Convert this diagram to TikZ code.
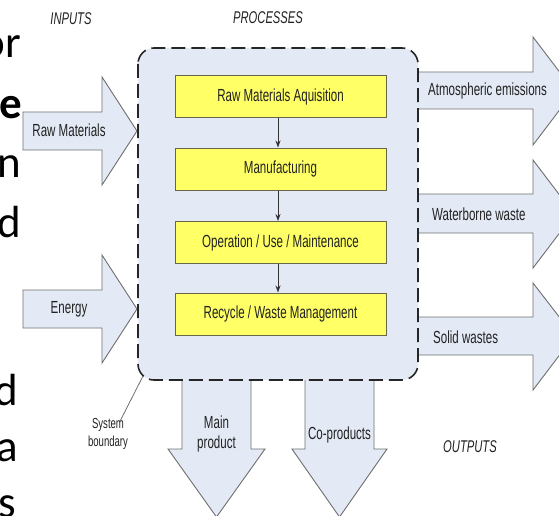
\documentclass[tikz,border=0pt]{standalone}
\usepackage{fontspec}
\setmainfont{Liberation Sans}[FakeStretch=0.66]
\newfontfamily\slidefont{Carlito}
\usetikzlibrary{arrows.meta}
\definecolor{paleblue}{HTML}{E4EAF5}
\definecolor{arrowline}{HTML}{6E6E6E}
\definecolor{boxyellow}{HTML}{FFFF66}
\definecolor{boxedge}{HTML}{66664A}
\definecolor{txt}{HTML}{222222}
\begin{document}
\begin{tikzpicture}[x=1pt,y=-1pt,
  fatarrow/.style={draw=arrowline, fill=paleblue, line width=0.9pt, line join=miter},
  boundary/.style={draw=black!85, fill=paleblue, line width=1.6pt, dash pattern=on 14pt off 6pt, rounded corners=16pt},
  stepbox/.style={draw=boxedge, fill=boxyellow, line width=1pt, minimum width=211pt, minimum height=42pt, inner sep=0pt, text=txt, font=\fontsize{17.5}{19}\selectfont},
  lbl/.style={text=txt, font=\fontsize{17.5}{19}\selectfont, inner sep=0pt},
  small/.style={text=txt, font=\fontsize{14.5}{18}\selectfont, inner sep=0pt, align=center},
  head/.style={text=txt, font=\fontsize{17}{19}\selectfont\itshape, inner sep=0pt},
  big/.style={font=\slidefont\fontsize{45}{50}\selectfont, inner sep=0pt, anchor=base east, text=black}
]
\useasboundingbox (0,0) rectangle (559,516);
\clip (0,0) rectangle (559,516);

% slide text fragments behind the diagram
\node[big] (t1) at (21,58) {or};
\node[big] (t2) at (22,118) {\bfseries e};
\node[big] (t3) at (21,177) {n};
\node[big] (t4) at (21,237) {d};
\node[big] (t5) at (18,405) {d};
\node[big] (t6) at (18,461) {a};
\node[big] (t7) at (16,517) {s};

% input arrows
\draw[fatarrow] (23,112) -- (102,112) -- (102,77) -- (137,131) -- (102,185) -- (102,150) -- (23,150) -- cycle;
\draw[fatarrow] (23,290) -- (102,290) -- (102,255) -- (137,309) -- (102,363) -- (102,328) -- (23,328) -- cycle;

% output arrows (right)
\draw[fatarrow] (405,72) -- (533,72) -- (533,37) -- (574,91) -- (533,145) -- (533,109) -- (405,109) -- cycle;
\draw[fatarrow] (405,194) -- (533,194) -- (533,160) -- (574,214) -- (533,268) -- (533,233) -- (405,233) -- cycle;
\draw[fatarrow] (405,317) -- (533,317) -- (533,283) -- (574,336) -- (533,390) -- (533,355) -- (405,355) -- cycle;

% output arrows (down)
\draw[fatarrow] (182,365) -- (182,449) -- (168,449) -- (216.5,517) -- (265,449) -- (251,449) -- (251,365) -- cycle;
\draw[fatarrow] (305,365) -- (305,449) -- (292,449) -- (339.5,517) -- (387,449) -- (374,449) -- (374,365) -- cycle;

% system boundary
\draw[boundary] (138,48) rectangle (418,380);

% process steps
\node[stepbox] (s1) at (280.5,97) {Raw Materials Aquisition};
\node[stepbox] (s2) at (280.5,169) {Manufacturing};
\node[stepbox] (s3) at (280.5,242.5) {Operation / Use / Maintenance};
\node[stepbox] (s4) at (280.5,314) {Recycle / Waste Management};
\foreach \a/\b in {s1/s2,s2/s3,s3/s4}
  \draw[-{Stealth[length=7pt,width=5pt]}, line width=0.8pt, black!80] ([xshift=-2.5pt]\a.south) -- ([xshift=-2.5pt]\b.north);

% labels
\node[lbl] (lraw) at (69,130) {Raw Materials};
\node[lbl] (lenergy) at (69,309) {Energy};
\node[lbl, anchor=west] (latm) at (428,91) {Atmospheric emissions};
\node[lbl, anchor=west] (lwater) at (432,214) {Waterborne waste};
\node[lbl, anchor=west] (lsolid) at (433,337) {Solid wastes};
\node[lbl, align=center] (lmain) at (216.5,434) {Main\\[1pt]product};
\node[lbl] (lco) at (339.5,435) {Co-products};

\node[head] (hin) at (71,19) {INPUTS};
\node[head] (hproc) at (268,18) {PROCESSES};
\node[head] (hout) at (470,447) {OUTPUTS};

\node[small] (sb) at (108,434) {System\\boundary};
\coordinate (sbc) at (143,376);
\draw[arrowline, line width=0.8pt] (sb.north) ++(12pt,-3pt) coordinate (sbl) -- (sbc);
\end{tikzpicture}
\end{document}
